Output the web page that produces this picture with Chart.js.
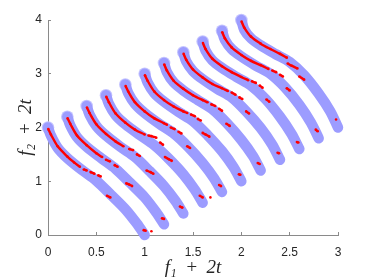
<!DOCTYPE html>
<html>
<head>
<meta charset="utf-8">
<script src="https://cdn.jsdelivr.net/npm/chart.js@4.4.0/dist/chart.umd.min.js"></script>
<style>
  html, body { margin: 0; background: #fff; }
</style>
</head>
<body>
<canvas id="chart" width="374" height="280"></canvas>
<script>
/* time steps, plotted shifted by 2t */
const TIMES = [0, 0.1, 0.2, 0.3, 0.4, 0.5, 0.6, 0.7, 0.8, 0.9, 1.0];

/* true front (blue): shared f1 samples, one f2 row per time step */
const PF_F1 = [0, 0.03, 0.1, 0.2, 0.35, 0.5, 0.65, 0.8, 0.92, 1];
const PF_F2 = [
  [2, 1.85, 1.62, 1.43, 1.21, 1.01, 0.75, 0.48, 0.21, 0],
  [2, 1.84, 1.62, 1.44, 1.23, 1.03, 0.77, 0.50, 0.22, 0],
  [2, 1.84, 1.63, 1.45, 1.24, 1.05, 0.79, 0.51, 0.23, 0],
  [2, 1.84, 1.63, 1.46, 1.26, 1.07, 0.82, 0.53, 0.24, 0],
  [2, 1.84, 1.64, 1.47, 1.27, 1.09, 0.84, 0.54, 0.25, 0],
  [2, 1.84, 1.64, 1.48, 1.29, 1.12, 0.86, 0.56, 0.26, 0],
  [2, 1.83, 1.64, 1.49, 1.31, 1.14, 0.88, 0.57, 0.27, 0],
  [2, 1.83, 1.65, 1.50, 1.32, 1.16, 0.90, 0.59, 0.28, 0],
  [2, 1.83, 1.65, 1.51, 1.34, 1.18, 0.93, 0.60, 0.28, 0],
  [2, 1.83, 1.66, 1.52, 1.35, 1.20, 0.95, 0.62, 0.29, 0],
  [2, 1.82, 1.66, 1.53, 1.37, 1.22, 0.97, 0.63, 0.30, 0],
];

/* obtained solutions (red), null = gap */
const OBT_F1 = [
  [0.003, 0.03, 0.1, 0.2, 0.27, 0.33, null, 0.37, 0.40, null, 0.44, 0.48, null, 0.52, 0.545, null, 0.61, 0.645, null, 0.99, 1.01, null, 1.07],
  [0.003, 0.03, 0.1, 0.2, 0.3, 0.36, null, 0.40, 0.44, null, 0.49, 0.52, null, 0.61, 0.64, 0.67, null, 0.98, 1.0],
  [0.003, 0.03, 0.1, 0.2, 0.3, 0.38, null, 0.44, 0.48, null, 0.52, 0.55, null, 0.62, 0.66, 0.69, null, 0.965, 0.99],
  [0.003, 0.03, 0.1, 0.2, 0.3, 0.4, null, 0.44, 0.47, 0.52, null, 0.56, 0.59, null, 0.61, 0.65, 0.68, null, 0.97, 1.0, null, 1.08],
  [0.003, 0.03, 0.1, 0.2, 0.3, 0.4, 0.43, null, 0.47, 0.51, null, 0.55, 0.58, null, 0.64, 0.67, null, 0.97, 0.99],
  [0.003, 0.03, 0.1, 0.2, 0.3, 0.4, 0.44, null, 0.48, 0.52, null, 0.55, 0.58, null, 0.60, 0.63, 0.67, null, 0.975, 0.99],
  [0.003, 0.03, 0.1, 0.2, 0.3, 0.4, 0.45, null, 0.49, 0.53, null, 0.57, 0.60, null, 0.645, 0.68, null, 0.97, 0.99],
  [0.003, 0.03, 0.1, 0.2, 0.3, 0.4, 0.46, null, 0.50, 0.54, null, 0.58, 0.61, null, 0.65, 0.68, null, 0.975, 0.99],
  [0.003, 0.03, 0.1, 0.2, 0.3, 0.4, 0.47, null, 0.51, 0.55, null, 0.59, 0.62, null, 0.66, 0.69, null, 0.975, 0.99],
  [0.003, 0.03, 0.1, 0.2, 0.3, 0.4, 0.48, null, 0.52, 0.56, null, 0.60, 0.63, null, 0.67, 0.70, null, 0.97, 0.99],
  [0.003, 0.03, 0.1, 0.2, 0.3, 0.4, 0.47, null, 0.48, 0.52, 0.58, null, 0.60, 0.65, null, 0.98],
];
const OBT_F2 = [
  [1.97, 1.87, 1.65, 1.46, 1.35, 1.27, null, 1.22, 1.20, null, 1.17, 1.14, null, 1.11, 1.09, null, 0.73, 0.70, null, 0.09, 0.08, null, 0.07],
  [1.97, 1.87, 1.65, 1.47, 1.32, 1.25, null, 1.20, 1.17, null, 1.10, 1.07, null, 0.76, 0.74, 0.71, null, 0.11, 0.10],
  [1.97, 1.87, 1.66, 1.48, 1.34, 1.25, null, 1.20, 1.18, null, 1.10, 1.07, null, 0.80, 0.77, 0.74, null, 0.13, 0.11],
  [1.97, 1.87, 1.66, 1.49, 1.36, 1.27, null, 1.25, 1.24, 1.21, null, 1.12, 1.08, null, 0.85, 0.81, 0.78, null, 0.13, 0.10, null, 0.10],
  [1.97, 1.87, 1.67, 1.50, 1.37, 1.28, 1.25, null, 1.20, 1.17, null, 1.12, 1.09, null, 0.85, 0.82, null, 0.13, 0.11],
  [1.97, 1.87, 1.67, 1.51, 1.39, 1.30, 1.27, null, 1.24, 1.21, null, 1.16, 1.13, null, 0.90, 0.87, 0.83, null, 0.13, 0.12],
  [1.97, 1.86, 1.67, 1.52, 1.40, 1.31, 1.27, null, 1.23, 1.20, null, 1.15, 1.11, null, 0.87, 0.83, null, 0.14, 0.12],
  [1.97, 1.86, 1.68, 1.53, 1.41, 1.33, 1.28, null, 1.25, 1.21, null, 1.16, 1.13, null, 0.90, 0.86, null, 0.13, 0.12],
  [1.97, 1.86, 1.68, 1.54, 1.43, 1.34, 1.28, null, 1.26, 1.23, null, 1.18, 1.14, null, 0.92, 0.88, null, 0.13, 0.12],
  [1.97, 1.86, 1.69, 1.55, 1.44, 1.36, 1.29, null, 1.26, 1.23, null, 1.18, 1.15, null, 0.93, 0.89, null, 0.16, 0.13],
  [1.97, 1.86, 1.69, 1.56, 1.46, 1.37, 1.30, null, 1.19, 1.15, 1.10, null, 0.95, 0.89, null, 0.15],
];

const X_TICKS = [0, 0.5, 1, 1.5, 2, 2.5, 3];
const Y_TICKS = [0, 1, 2, 3, 4];

/* helpers */
function shifted(f1, f2, t) {
  return f1.map((v, i) => v === null
    ? { x: null, y: null }
    : { x: v + 2 * t, y: f2[i] + 2 * t });
}

const datasets = [];

/* start markers (drawn underneath the bands) */
datasets.push({
  data: TIMES.map((t, k) => ({ x: PF_F1[0] + 2 * t, y: PF_F2[k][0] + 2 * t })),
  pointRadius: 6.3,
  pointBackgroundColor: '#c4c4ff',
  pointBorderWidth: 0,
  showLine: false,
  order: 3,
  clip: false,
});

TIMES.forEach((t, k) => {
  datasets.push({
    data: shifted(PF_F1, PF_F2[k], t),
    showLine: true,
    borderColor: '#9c9cff',
    borderWidth: 10.5,
    borderCapStyle: 'round',
    borderJoinStyle: 'round',
    tension: 0.3,
    pointRadius: 0,
    order: 2,
    clip: false,
  });
  datasets.push({
    data: shifted(OBT_F1[k], OBT_F2[k], t),
    showLine: true,
    spanGaps: false,
    borderColor: '#ff0000',
    borderWidth: 2.4,
    tension: 0.3,
    pointRadius: 1.3,
    pointBackgroundColor: '#ff0000',
    pointBorderWidth: 0,
    order: 1,
    clip: false,
  });
});

const tickFont = { family: "'Liberation Sans', Arial, sans-serif", size: 12 };
const titleFont = { family: "'Liberation Serif', 'DejaVu Serif', serif", size: 19, style: 'italic' };

new Chart(document.getElementById('chart'), {
  type: 'scatter',
  data: { datasets },
  options: {
    responsive: false,
    animation: false,
    devicePixelRatio: 1,
    layout: { padding: { left: 0, right: 36, top: 20, bottom: 0 } },
    plugins: { legend: { display: false }, tooltip: { enabled: false } },
    scales: {
      x: {
        type: 'linear',
        min: 0, max: 3,
        afterBuildTicks: s => { s.ticks = X_TICKS.map(v => ({ value: v })); },
        afterFit: s => { s.height = 45; },
        border: { color: '#8a8a8a', width: 1 },
        grid: { drawOnChartArea: false, drawTicks: true, tickLength: -3, color: '#8a8a8a' },
        ticks: { color: '#262626', font: tickFont, padding: 13, maxRotation: 0, callback: v => String(v) },
        title: { display: true, text: 'f\u2081 \u2009+\u2009 2t', color: '#262626', font: titleFont, padding: { top: 0, bottom: 1 } },
      },
      y: {
        type: 'linear',
        min: 0, max: 4,
        afterBuildTicks: s => { s.ticks = Y_TICKS.map(v => ({ value: v })); },
        afterFit: s => { s.width = 48; },
        border: { color: '#8a8a8a', width: 1 },
        grid: { drawOnChartArea: false, drawTicks: true, tickLength: -3, color: '#8a8a8a' },
        ticks: { color: '#262626', font: tickFont, padding: 9, callback: v => String(v) },
        title: { display: true, text: 'f\u2082 \u2009+\u2009 2t', color: '#262626', font: titleFont, padding: { top: 15, bottom: 0 } },
      },
    },
  },
});
</script>
</body>
</html>
